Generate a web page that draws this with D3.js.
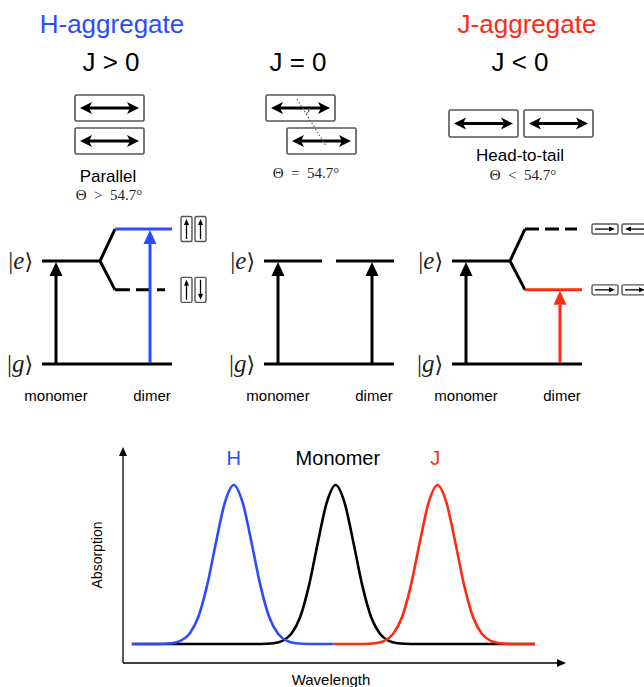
<!DOCTYPE html>
<html>
<head>
<meta charset="utf-8">
<script src="https://cdn.jsdelivr.net/npm/d3@7"></script>
<style>
  body { margin: 0; background: #fff; }
  svg { display: block; }
</style>
</head>
<body>
<div id="chart"></div>
<script>
const BLUE = "#2a4bff", RED = "#ff2a12";

// labels
const aggregateTitles = ["H-aggregate", "", "J-aggregate"];
const couplingLabels = ["J > 0", "J = 0", "J < 0"];
const geometryLabels = ["Parallel", "", "Head-to-tail"];
const angleLabels = ["Θ\u2002>\u200254.7°", "Θ\u2002=\u200254.7°", "Θ\u2002<\u200254.7°"];
const stateLabels = ["monomer", "dimer"];
const kets = ["e", "g"];

// energies (ground = 0, monomer excited = 1)
const monomerLevel = [1, 1, 1];
const dimerUpper = [1.31, 1, 1.31];
const dimerLower = [0.72, 1, 0.72];
const brightLevel = ["upper", "same", "lower"];

// absorption bands, [wavelength, absorption]
const bandLabels = ["H", "Monomer", "J"];
const hBand = [[2,0],[8,0],[11,0.005],[13,0.02],[15,0.065],[17,0.17],[19,0.37],[21,0.64],[23,0.89],[25,1],
  [27,0.89],[29,0.64],[31,0.37],[33,0.17],[35,0.065],[37,0.02],[39,0.005],[42,0],[47.5,0]];
const monomerBand = [[2,0],[31,0],[34,0.005],[36,0.02],[38,0.065],[40,0.17],[42,0.37],[44,0.64],[46,0.89],[48,1],
  [50,0.89],[52,0.64],[54,0.37],[56,0.17],[58,0.065],[60,0.02],[62,0.005],[65,0],[93,0]];
const jBand = [[47.5,0],[54,0],[57,0.005],[59,0.02],[61,0.065],[63,0.17],[65,0.37],[67,0.64],[69,0.89],[71,1],
  [73,0.89],[75,0.64],[77,0.37],[79,0.17],[81,0.065],[83,0.02],[85,0.005],[88,0],[93,0]];

const SANS = "'Liberation Sans', Arial, Helvetica, sans-serif";
const SERIF = "'Liberation Serif', 'DejaVu Serif', serif";

const svg = d3.select("#chart").append("svg")
    .attr("width", 644)
    .attr("height", 687);

// filled arrow head, tip at (x,y), pointing along angle a (radians)
function head(g, x, y, a, len, half, color, notch) {
    notch = notch || 0;
    const c = Math.cos(a), s = Math.sin(a);
    const pts = [
        [x, y],
        [x - len*c - half*s, y - len*s + half*c],
        [x - (len-notch)*c, y - (len-notch)*s],
        [x - len*c + half*s, y - len*s - half*c]
    ];
    g.append("path")
        .attr("d", d3.line()(pts) + "Z")
        .attr("fill", color);
}

function arrow(g, x1, y1, x2, y2, opt) {
    const a = Math.atan2(y2 - y1, x2 - x1);
    const back = opt.len - (opt.notch || 0);
    g.append("line")
        .attr("x1", opt.both ? x1 + back*Math.cos(a) : x1)
        .attr("y1", opt.both ? y1 + back*Math.sin(a) : y1)
        .attr("x2", x2 - back*Math.cos(a))
        .attr("y2", y2 - back*Math.sin(a))
        .attr("stroke", opt.color).attr("stroke-width", opt.width);
    head(g, x2, y2, a, opt.len, opt.half, opt.color, opt.notch);
    if (opt.both) head(g, x1, y1, a + Math.PI, opt.len, opt.half, opt.color, opt.notch);
}

function box(g, x, y, w, h, sw) {
    g.append("rect")
        .attr("x", x).attr("y", y).attr("width", w).attr("height", h)
        .attr("rx", 1.5)
        .attr("fill", "none").attr("stroke", "#555").attr("stroke-width", sw);
}

/* Titles */
const titleX = [112, 298, 527];
const couplingX = [111, 298, 520];
aggregateTitles.forEach((t, i) => {
    svg.append("text")
        .attr("x", titleX[i]).attr("y", 33)
        .attr("text-anchor", "middle")
        .style("font-family", SANS).style("font-size", "26px")
        .attr("fill", i === 0 ? BLUE : RED)
        .text(t);
});
couplingLabels.forEach((t, i) => {
    svg.append("text")
        .attr("x", couplingX[i]).attr("y", 71)
        .attr("text-anchor", "middle")
        .style("font-family", SANS).style("font-size", "26px")
        .text(t);
});

/* Dipole boxes */
const topG = svg.append("g");
const bigArrow = { color: "#000", width: 3, len: 12, half: 6, notch: 3, both: true };
const dipoleBoxes = [
    [75, 95, 69, 26], [75, 128, 69, 26],
    [266, 95, 69, 26], [287, 128, 69, 26],
    [449, 110, 69, 27], [524, 110, 69, 27]
];
dipoleBoxes.forEach(b => {
    box(topG, b[0], b[1], b[2], b[3], 1.6);
    arrow(topG, b[0] + 5, b[1] + b[3]/2, b[0] + b[2] - 5, b[1] + b[3]/2, bigArrow);
});

// magic angle hint
topG.append("line")
    .attr("x1", 297).attr("y1", 99).attr("x2", 326).attr("y2", 146)
    .attr("stroke", "#666").attr("stroke-width", 1.2)
    .attr("stroke-dasharray", "1.5,2");
topG.append("path")
    .attr("d", d3.arc()({ innerRadius: 7, outerRadius: 7, startAngle: Math.PI/2, endAngle: Math.PI/2 + 1.0 }))
    .attr("transform", "translate(302.5,108)")
    .attr("fill", "none").attr("stroke", "#666").attr("stroke-width", 1);

const geoX = [108, 0, 520];
geometryLabels.forEach((t, i) => {
    if (!t) return;
    svg.append("text")
        .attr("x", geoX[i]).attr("y", i === 0 ? 182 : 161)
        .attr("text-anchor", "middle")
        .style("font-family", SANS).style("font-size", "17px")
        .text(t);
});
const angleX = [109, 306, 523], angleY = [200, 178, 180];
angleLabels.forEach((t, i) => {
    svg.append("text")
        .attr("x", angleX[i]).attr("y", angleY[i])
        .attr("text-anchor", "middle")
        .style("font-family", SERIF).style("font-size", "15px")
        .attr("fill", "#222")
        .text(t);
});

/* Energy level diagrams */
const ey = d3.scaleLinear().domain([0, 1]).range([364, 261]);
const panelX = [42, 264, 452];
const lvlW = 3;

panelX.forEach((x0, i) => {
    const g = svg.append("g");
    const colour = i === 0 ? BLUE : i === 2 ? RED : "#000";

    // ground + monomer excited
    g.append("line").attr("x1", x0).attr("x2", x0 + 130)
        .attr("y1", ey(0)).attr("y2", ey(0))
        .attr("stroke", "#000").attr("stroke-width", lvlW);
    g.append("line").attr("x1", x0).attr("x2", x0 + 58)
        .attr("y1", ey(monomerLevel[i])).attr("y2", ey(monomerLevel[i]))
        .attr("stroke", "#000").attr("stroke-width", lvlW);

    let brightY;
    if (brightLevel[i] === "same") {
        g.append("line").attr("x1", x0 + 72).attr("x2", x0 + 130)
            .attr("y1", ey(monomerLevel[i])).attr("y2", ey(monomerLevel[i]))
            .attr("stroke", "#000").attr("stroke-width", lvlW);
        brightY = ey(monomerLevel[i]);
    } else {
        const bx = x0 + 58, sx = x0 + 73;
        g.append("path")
            .attr("d", d3.line()([[sx, ey(dimerUpper[i])], [bx, ey(monomerLevel[i])], [sx, ey(dimerLower[i])]]))
            .attr("fill", "none").attr("stroke", "#000").attr("stroke-width", lvlW)
            .attr("stroke-linejoin", "miter");
        const upperBright = brightLevel[i] === "upper";
        g.append("line").attr("x1", sx).attr("x2", x0 + (upperBright ? 130 : 125))
            .attr("y1", ey(dimerUpper[i])).attr("y2", ey(dimerUpper[i]))
            .attr("stroke", upperBright ? colour : "#000").attr("stroke-width", lvlW)
            .attr("stroke-dasharray", upperBright ? null : "14,6");
        g.append("line").attr("x1", sx).attr("x2", x0 + (upperBright ? 123 : 130))
            .attr("y1", ey(dimerLower[i])).attr("y2", ey(dimerLower[i]))
            .attr("stroke", upperBright ? "#000" : colour).attr("stroke-width", lvlW)
            .attr("stroke-dasharray", upperBright ? "15,6" : null);
        brightY = ey(upperBright ? dimerUpper[i] : dimerLower[i]);
    }

    const lvArrow = { width: 3, len: 14, half: 6.5 };
    arrow(g, x0 + 14, ey(0) - 1, x0 + 14, ey(monomerLevel[i]) + 1, Object.assign({ color: "#000" }, lvArrow));
    arrow(g, x0 + 108, ey(0) - 1, x0 + 108, brightY + 1, Object.assign({ color: colour }, lvArrow));

    // kets
    kets.forEach((k, j) => {
        const t = g.append("text")
            .attr("x", x0 - 9).attr("y", (j === 0 ? ey(1) : ey(0)) + 8)
            .attr("text-anchor", "end")
            .style("font-family", SERIF).style("font-size", "25px")
            .attr("fill", "#222");
        t.append("tspan").text("|");
        t.append("tspan").style("font-style", "italic").text(k);
        t.append("tspan").style("font-family", "'DejaVu Serif', serif").style("font-size", "22px").text("⟩");
    });

    // state labels
    [x0 + 14, x0 + 110].forEach((lx, j) => {
        g.append("text")
            .attr("x", lx).attr("y", 401)
            .attr("text-anchor", "middle")
            .style("font-family", SANS).style("font-size", "15px")
            .text(stateLabels[j]);
    });
});

/* Small dipole pictograms next to split levels */
const small = svg.append("g");
const thin = { color: "#000", width: 1.3, len: 6, half: 2.5 };
// H: vertical boxes
[[dimerUpper[0], [-1, -1]], [dimerLower[0], [-1, 1]]].forEach(([e, dirs]) => {
    const cy = ey(e);
    [181, 195].forEach((bx, k) => {
        box(small, bx, cy - 12.5, 11, 25, 1.4);
        const y1 = cy + 10 * -dirs[k], y2 = cy + 10 * dirs[k];
        arrow(small, bx + 5.5, y1, bx + 5.5, y2, thin);
    });
});
// J: horizontal boxes
[[dimerUpper[2], [1, -1]], [dimerLower[2], [1, 1]]].forEach(([e, dirs]) => {
    const cy = ey(e);
    [592, 622].forEach((bx, k) => {
        box(small, bx, cy - 5, 26, 10, 1.4);
        const x1 = bx + 13 - 10 * dirs[k], x2 = bx + 13 + 10 * dirs[k];
        arrow(small, x1, cy, x2, cy, thin);
    });
});

/* Absorption spectrum */
const xScale = d3.scaleLinear().domain([0, 100]).range([123, 566]);
const yScale = d3.scaleLinear().domain([0, 1]).range([644, 485]);
const spec = svg.append("g");
const axOpt = { color: "#000", width: 1.3, len: 9, half: 4 };
arrow(spec, xScale(0), 663, xScale(0), 447, axOpt);
arrow(spec, xScale(0), 663, xScale(100), 663, axOpt);

const line = d3.line()
    .x(d => xScale(d[0]))
    .y(d => yScale(d[1]))
    .curve(d3.curveMonotoneX);

[[monomerBand, "#000"], [hBand, BLUE], [jBand, RED]].forEach(([band, c]) => {
    spec.append("path")
        .attr("d", line(band))
        .attr("fill", "none")
        .attr("stroke", c)
        .attr("stroke-width", 2.6);
});

const bandLabelX = [25, 48.5, 70.5], bandColour = [BLUE, "#000", RED];
bandLabels.forEach((t, i) => {
    spec.append("text")
        .attr("x", xScale(bandLabelX[i])).attr("y", 465)
        .attr("text-anchor", "middle")
        .style("font-family", SANS).style("font-size", "20px")
        .attr("fill", bandColour[i])
        .text(t);
});

spec.append("text")
    .attr("transform", "translate(102,555) rotate(-90)")
    .attr("text-anchor", "middle")
    .style("font-family", SANS).style("font-size", "14px")
    .text("Absorption");
spec.append("text")
    .attr("x", 331).attr("y", 685)
    .attr("text-anchor", "middle")
    .style("font-family", SANS).style("font-size", "15px")
    .text("Wavelength");
</script>
</body>
</html>
